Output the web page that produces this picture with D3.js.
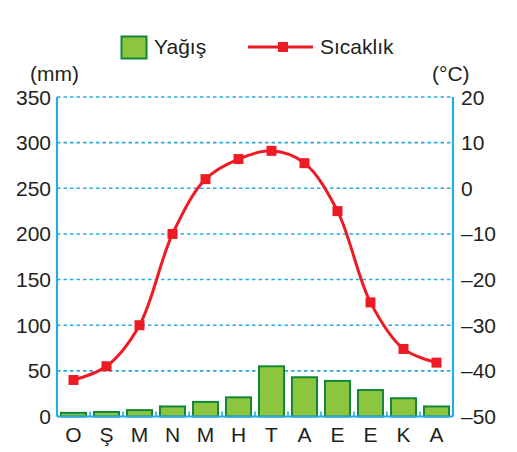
<!DOCTYPE html>
<html><head><meta charset="utf-8">
<script src="https://cdn.jsdelivr.net/npm/d3@7"></script>
<style>body{margin:0;background:#fff}svg{display:block}text{font-family:"Liberation Sans",Arial,sans-serif;fill:#231f20}</style>
</head><body>
<script>
const months = ["O","Ş","M","N","M","H","T","A","E","E","K","A"];
const precipitation = [4,5,7,11,16,21,55,43,39,29,20,11];
const temperature = [-42,-39,-30,-10,2,6.4,8.2,5.5,-5,-25,-35.2,-38.2];
const precipTicks = [0,50,100,150,200,250,300,350];
const tempTicks = [-50,-40,-30,-20,-10,0,10,20];

const W=517,H=452;
const m={left:57,right:64,top:97,bottom:35.5};
const svg=d3.select("body").append("svg").attr("width",W).attr("height",H);
const x=d3.scaleBand().domain(d3.range(months.length)).range([m.left,W-m.right]).paddingInner(0.18).paddingOuter(0.09);
const xOuter=d3.scaleBand().domain(d3.range(months.length)).range([m.left,W-m.right]);
const yP=d3.scaleLinear().domain([0,350]).range([H-m.bottom,m.top]);
const yT=d3.scaleLinear().domain([-50,20]).range([H-m.bottom,m.top]);
const blue="#2aaae2";

// grid
svg.append("g").selectAll("line").data(precipTicks.filter(d=>d>0)).join("line")
 .attr("x1",m.left).attr("x2",W-m.right).attr("y1",d=>yP(d)).attr("y2",d=>yP(d))
 .attr("stroke",blue).attr("stroke-width",1.6).attr("stroke-dasharray","3.5,3");

// bars
svg.append("g").selectAll("rect").data(precipitation).join("rect")
 .attr("x",(d,i)=>x(i)+1).attr("width",x.bandwidth()-2)
 .attr("y",d=>yP(d)).attr("height",d=>yP(0)-yP(d))
 .attr("fill","#8cc63f").attr("stroke","#12873a").attr("stroke-width",2);

// axes lines
svg.append("line").attr("x1",m.left).attr("x2",m.left).attr("y1",m.top).attr("y2",yP(0)).attr("stroke",blue).attr("stroke-width",2.2);
svg.append("line").attr("x1",W-m.right).attr("x2",W-m.right).attr("y1",m.top).attr("y2",yP(0)).attr("stroke",blue).attr("stroke-width",2.2);
svg.append("line").attr("x1",m.left).attr("x2",W-m.right).attr("y1",yP(0)).attr("y2",yP(0)).attr("stroke",blue).attr("stroke-width",2.2);
// bottom small ticks at band boundaries
svg.append("g").selectAll("line").data(d3.range(1,months.length)).join("line")
 .attr("x1",i=>xOuter(i)).attr("x2",i=>xOuter(i)).attr("y1",yP(0)).attr("y2",yP(0)-5)
 .attr("stroke",blue).attr("stroke-width",1.6);

// left tick labels
svg.append("g").selectAll("text").data(precipTicks).join("text")
 .attr("x",51).attr("y",d=>yP(d)).attr("dy","0.36em").attr("text-anchor","end")
 .attr("font-size",21).text(d=>d);
// right tick labels
svg.append("g").selectAll("text").data(tempTicks).join("text")
 .attr("x",461).attr("y",d=>yT(d)).attr("dy","0.36em").attr("text-anchor","start")
 .attr("font-size",21).text(d=>d<0?"–"+Math.abs(d):d);
// month labels
svg.append("g").selectAll("text").data(months).join("text")
 .attr("x",(d,i)=>xOuter(i)+xOuter.bandwidth()/2).attr("y",442).attr("text-anchor","middle")
 .attr("font-size",21).text(d=>d);

// units
svg.append("text").attr("x",30).attr("y",81).attr("font-size",21).text("(mm)");
svg.append("text").attr("x",432).attr("y",81).attr("font-size",21).text("(°C)");

// line
const cx=i=>xOuter(i)+xOuter.bandwidth()/2;
const line=d3.line().x((d,i)=>cx(i)).y(d=>yT(d)).curve(d3.curveCatmullRom.alpha(0.5));
svg.append("path").datum(temperature).attr("d",line).attr("fill","none").attr("stroke","#ed1c24").attr("stroke-width",3);
svg.append("g").selectAll("rect").data(temperature).join("rect")
 .attr("x",(d,i)=>cx(i)-5).attr("y",d=>yT(d)-5).attr("width",10).attr("height",10).attr("fill","#ed1c24");

// legend
const lg=svg.append("g");
lg.append("rect").attr("x",121.5).attr("y",36.5).attr("width",25).attr("height",22).attr("fill","#8cc63f").attr("stroke","#12873a").attr("stroke-width",2);
lg.append("text").attr("x",154).attr("y",54).attr("font-size",21).text("Yağış");
lg.append("line").attr("x1",248).attr("x2",313).attr("y1",47).attr("y2",47).attr("stroke","#ed1c24").attr("stroke-width",3);
lg.append("rect").attr("x",278).attr("y",42).attr("width",10).attr("height",10).attr("fill","#ed1c24");
lg.append("text").attr("x",320).attr("y",54).attr("font-size",21).text("Sıcaklık");
</script>
</body></html>
